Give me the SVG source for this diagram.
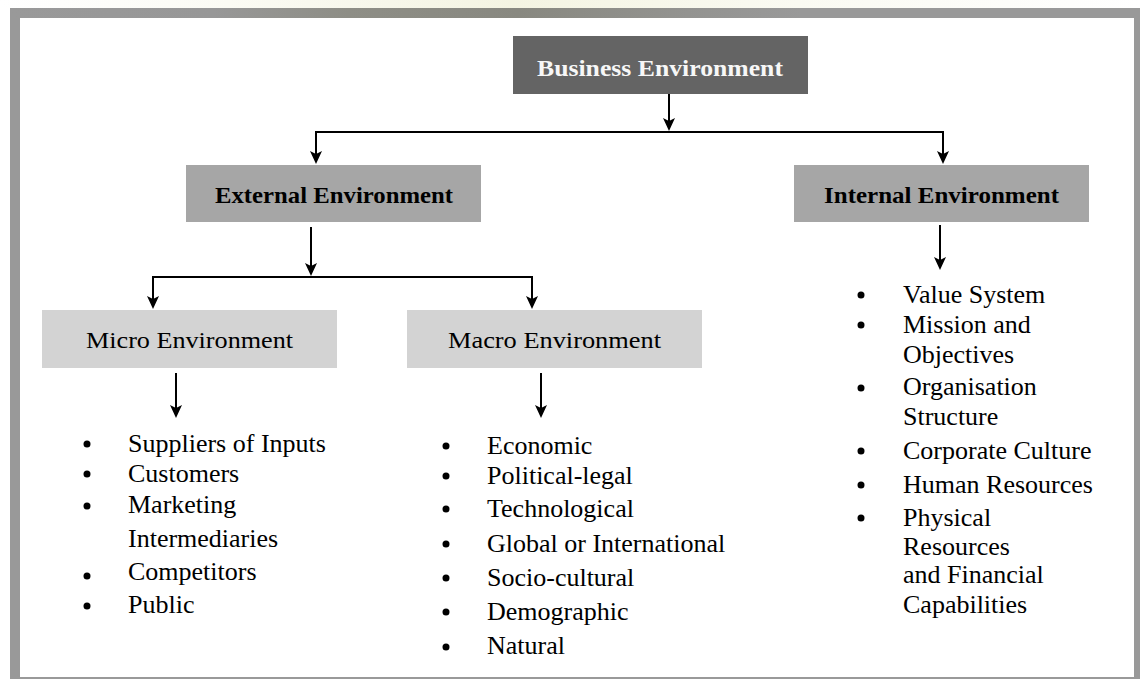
<svg xmlns="http://www.w3.org/2000/svg" width="1140" height="679" viewBox="0 0 1140 679">
  <defs>
    <linearGradient id="topTint" x1="0" y1="0" x2="1" y2="0">
      <stop offset="0" stop-color="#ffffff"/>
      <stop offset="0.2" stop-color="#fbfbf4"/>
      <stop offset="0.45" stop-color="#f4f4e2"/>
      <stop offset="0.7" stop-color="#fafaf2"/>
      <stop offset="1" stop-color="#ffffff"/>
    </linearGradient>
    <linearGradient id="bandTint" x1="0" y1="0" x2="1" y2="0">
      <stop offset="0" stop-color="#999999"/>
      <stop offset="0.18" stop-color="#979797"/>
      <stop offset="0.3" stop-color="#8e8e86"/>
      <stop offset="0.45" stop-color="#888880"/>
      <stop offset="0.6" stop-color="#939390"/>
      <stop offset="0.7" stop-color="#999999"/>
      <stop offset="1" stop-color="#999999"/>
    </linearGradient>
    <marker id="ah" viewBox="0 0 13 12" refX="10" refY="6" markerWidth="13" markerHeight="12" markerUnits="userSpaceOnUse" orient="auto">
      <path d="M0,0 L13,6 L0,12 L3,6 z" fill="#000"/>
    </marker>
    <style>
      .lbl { font-family: "Liberation Serif", "Times New Roman", serif; font-size: 24px; }
      .bold { font-weight: bold; font-size: 23px; }
      .item { font-family: "Liberation Serif", "Times New Roman", serif; font-size: 26px; fill: #000; }
      .bul { fill: #000; }
      .conn { fill: none; stroke: #000; stroke-width: 2; }
    </style>
  </defs>

  <!-- page background and frame -->
  <rect x="0" y="0" width="1140" height="679" fill="#ffffff"/>
  <rect x="0" y="0" width="1140" height="8" fill="url(#topTint)"/>
  <rect x="10" y="8" width="1140" height="680" fill="#999999"/>
  <rect x="10" y="8" width="1130" height="10" fill="url(#bandTint)"/>
  <rect x="20" y="18" width="1114" height="659" fill="#ffffff"/>

  <!-- nodes -->
  <g id="business">
    <rect x="513" y="36" width="295" height="58" fill="#646464"/>
    <text class="lbl bold" x="660" y="76" fill="#f7f7f7" text-anchor="middle" textLength="246" lengthAdjust="spacingAndGlyphs">Business Environment</text>
  </g>
  <g id="external">
    <rect x="186" y="165" width="295" height="57" fill="#a6a6a6"/>
    <text class="lbl bold" x="334" y="203" fill="#000" text-anchor="middle" textLength="238" lengthAdjust="spacingAndGlyphs">External Environment</text>
  </g>
  <g id="internal">
    <rect x="794" y="165" width="295" height="57" fill="#a6a6a6"/>
    <text class="lbl bold" x="941.5" y="203" fill="#000" text-anchor="middle" textLength="235" lengthAdjust="spacingAndGlyphs">Internal Environment</text>
  </g>
  <g id="micro">
    <rect x="42" y="310" width="295" height="58" fill="#d3d3d3"/>
    <text class="lbl" x="189.5" y="348" fill="#000" text-anchor="middle" textLength="207" lengthAdjust="spacingAndGlyphs">Micro Environment</text>
  </g>
  <g id="macro">
    <rect x="407" y="310" width="295" height="58" fill="#d3d3d3"/>
    <text class="lbl" x="554.5" y="348" fill="#000" text-anchor="middle" textLength="213" lengthAdjust="spacingAndGlyphs">Macro Environment</text>
  </g>

  <!-- micro list -->
  <g id="micro-list">
    <circle class="bul" cx="87" cy="444" r="3.5"/>
    <text class="item" x="128" y="452">Suppliers of Inputs</text>
    <circle class="bul" cx="87" cy="474" r="3.5"/>
    <text class="item" x="128" y="482">Customers</text>
    <circle class="bul" cx="87" cy="506" r="3.5"/>
    <text class="item" x="128" y="513">Marketing</text>
    <text class="item" x="128" y="547">Intermediaries</text>
    <circle class="bul" cx="87" cy="576" r="3.5"/>
    <text class="item" x="128" y="580">Competitors</text>
    <circle class="bul" cx="87" cy="606" r="3.5"/>
    <text class="item" x="128" y="613">Public</text>
  </g>

  <!-- macro list -->
  <g id="macro-list">
    <circle class="bul" cx="446" cy="446" r="3.5"/>
    <text class="item" x="487" y="454">Economic</text>
    <circle class="bul" cx="446" cy="476" r="3.5"/>
    <text class="item" x="487" y="484">Political-legal</text>
    <circle class="bul" cx="446" cy="509" r="3.5"/>
    <text class="item" x="487" y="517">Technological</text>
    <circle class="bul" cx="446" cy="544" r="3.5"/>
    <text class="item" x="487" y="552">Global or International</text>
    <circle class="bul" cx="446" cy="578" r="3.5"/>
    <text class="item" x="487" y="586">Socio-cultural</text>
    <circle class="bul" cx="446" cy="612" r="3.5"/>
    <text class="item" x="487" y="620">Demographic</text>
    <circle class="bul" cx="446" cy="647" r="3.5"/>
    <text class="item" x="487" y="654">Natural</text>
  </g>

  <!-- internal list -->
  <g id="internal-list">
    <circle class="bul" cx="861" cy="295" r="3.5"/>
    <text class="item" x="903" y="303">Value System</text>
    <circle class="bul" cx="861" cy="325" r="3.5"/>
    <text class="item" x="903" y="333">Mission and</text>
    <text class="item" x="903" y="363">Objectives</text>
    <circle class="bul" cx="861" cy="388" r="3.5"/>
    <text class="item" x="903" y="395">Organisation</text>
    <text class="item" x="903" y="425">Structure</text>
    <circle class="bul" cx="861" cy="451" r="3.5"/>
    <text class="item" x="903" y="459">Corporate Culture</text>
    <circle class="bul" cx="861" cy="485" r="3.5"/>
    <text class="item" x="903" y="493">Human Resources</text>
    <circle class="bul" cx="861" cy="518" r="3.5"/>
    <text class="item" x="903" y="526">Physical</text>
    <text class="item" x="903" y="555">Resources</text>
    <text class="item" x="903" y="583">and Financial</text>
    <text class="item" x="903" y="613">Capabilities</text>
  </g>

  <!-- connectors -->
  <g id="connectors">
    <path class="conn" d="M669,94 V128" marker-end="url(#ah)"/>
    <path class="conn" d="M315,132 H944"/>
    <path class="conn" d="M316,132 V161" marker-end="url(#ah)"/>
    <path class="conn" d="M943,132 V161" marker-end="url(#ah)"/>
    <path class="conn" d="M311,227 V273" marker-end="url(#ah)"/>
    <path class="conn" d="M152,277 H533"/>
    <path class="conn" d="M153,277 V306" marker-end="url(#ah)"/>
    <path class="conn" d="M532,277 V306" marker-end="url(#ah)"/>
    <path class="conn" d="M176,373 V415" marker-end="url(#ah)"/>
    <path class="conn" d="M541,373 V415" marker-end="url(#ah)"/>
    <path class="conn" d="M940,225 V267" marker-end="url(#ah)"/>
  </g>
</svg>
